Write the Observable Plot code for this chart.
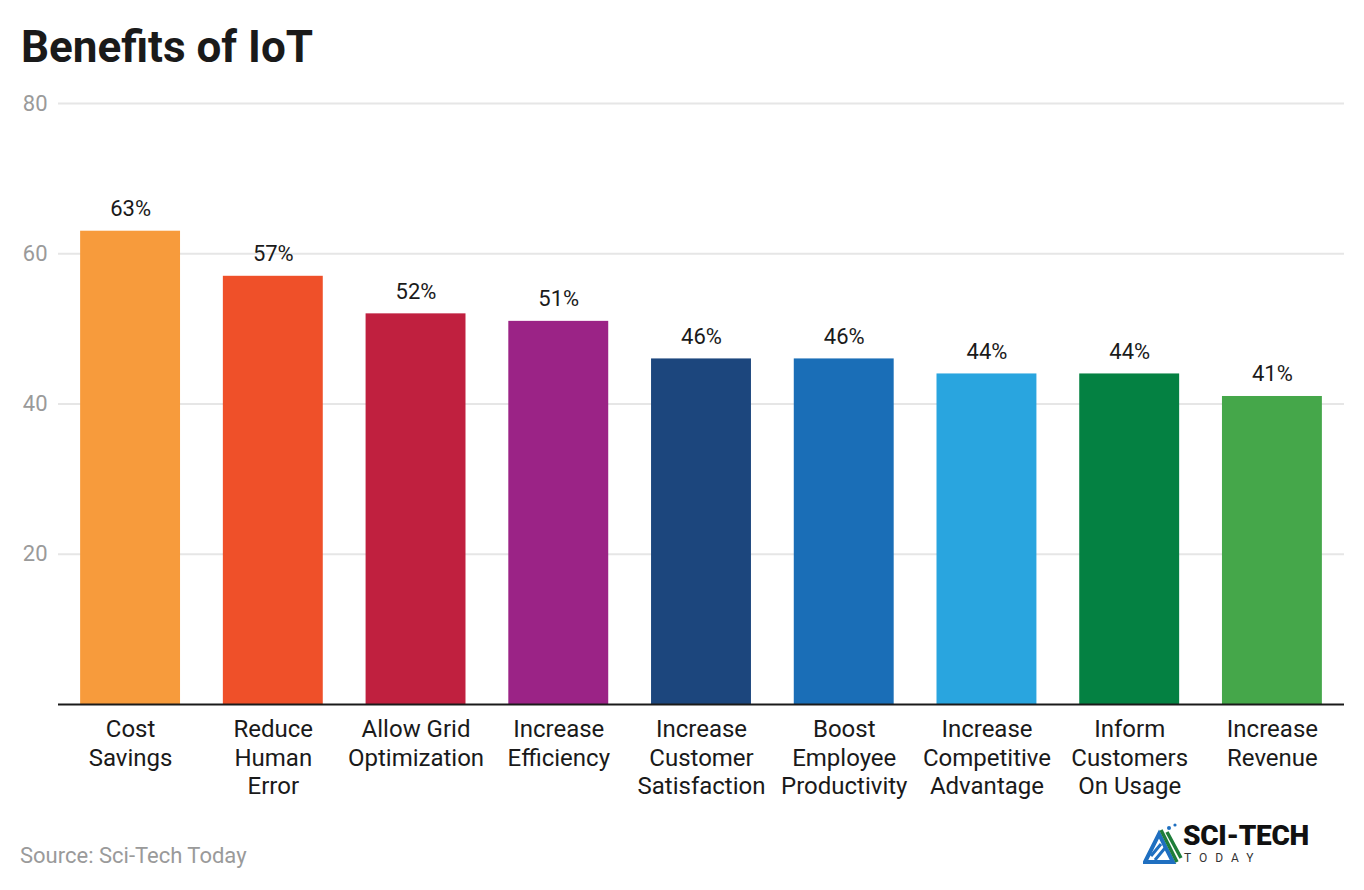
<!DOCTYPE html>
<html>
<head>
<meta charset="utf-8">
<script src="https://cdn.jsdelivr.net/npm/d3@7"></script>
<script src="https://cdn.jsdelivr.net/npm/@observablehq/plot@0.6"></script>
<style>
  html, body { margin: 0; padding: 0; background: #fff; }
  body { font-family: Roboto, "Noto Sans", sans-serif; }
  #wrap { position: relative; width: 1364px; height: 890px; overflow: hidden; }
  #title { position: absolute; left: 21px; top: 25px; font-size: 44px; line-height: 44px; font-weight: 700; color: #1a1a1a; margin: 0; }
  #chart { position: absolute; left: 0; top: 0; }
  #source { position: absolute; left: 20px; top: 844px; font-size: 22px; line-height: 24px; color: #9a9a9a; }
  #logo { position: absolute; left: 1143px; top: 822px; width: 180px; height: 44px; }
  #logo .main { position: absolute; left: 40px; top: 0px; font-size: 28px; line-height: 28px; font-weight: 900; color: #111; letter-spacing: -0.3px; }
  #logo .sub { position: absolute; left: 41px; top: 30px; font-size: 12px; line-height: 12px; color: #333; letter-spacing: 8px; }
</style>
</head>
<body>
<div id="wrap">
  <div id="chart"></div>
  <h1 id="title">Benefits of IoT</h1>
  <div id="source">Source: Sci-Tech Today</div>
  <div id="logo">
    <svg width="40" height="44" style="position:absolute;left:0;top:0">
      <polygon points="2,40 16,12 30,40" fill="none" stroke="#1f6fc0" stroke-width="4"/>
      <path d="M8,34 L18,22 M12,38 L22,26" stroke="#1f6fc0" stroke-width="3"/>
      <path d="M18,8 L34,40 M24,10 L38,36" stroke="#1e7d3a" stroke-width="3.5"/>
      <circle cx="26" cy="6" r="2" fill="#1f6fc0"/>
      <circle cx="32" cy="3" r="1.6" fill="#1f6fc0"/>
    </svg>
    <div class="main">SCI-TECH</div>
    <div class="sub">TODAY</div>
  </div>
</div>
<script>
const categories = [
  "Cost Savings", "Reduce Human Error", "Allow Grid Optimization", "Increase Efficiency",
  "Increase Customer Satisfaction", "Boost Employee Productivity", "Increase Competitive Advantage",
  "Inform Customers On Usage", "Increase Revenue"
];
const tickLabels = [
  "Cost\nSavings", "Reduce\nHuman\nError", "Allow Grid\nOptimization", "Increase\nEfficiency",
  "Increase\nCustomer\nSatisfaction", "Boost\nEmployee\nProductivity", "Increase\nCompetitive\nAdvantage",
  "Inform\nCustomers\nOn Usage", "Increase\nRevenue"
];
const values = [63, 57, 52, 51, 46, 46, 44, 44, 41];
const colors = ["#F79B3C", "#EF5029", "#C0203F", "#9B2386", "#1C467D", "#1A6EB7", "#29A5DF", "#048142", "#45A74A"];
const yTicks = [20, 40, 60, 80];

const data = categories.map((c, i) => ({name: c, value: values[i], label: tickLabels[i], color: colors[i]}));

const chart = Plot.plot({
  width: 1364,
  height: 820,
  marginTop: 103,
  marginBottom: 116,
  marginLeft: 58,
  marginRight: 20,
  style: {fontFamily: "Roboto, sans-serif", background: "transparent"},
  x: {domain: categories, paddingInner: 0.3, paddingOuter: 0.155, round: false, axis: null},
  y: {domain: [0, 80], axis: null},
  marks: [
    Plot.gridY(yTicks, {stroke: "#e6e6e6", strokeOpacity: 1, strokeWidth: 2}),
    Plot.axisY(yTicks, {tickSize: 0, tickPadding: 11, fontSize: 22, fill: "#9a9a9a", label: null}),
    Plot.barY(data, {x: "name", y: "value", fill: "color"}),
    Plot.ruleY([0], {stroke: "#1a1a1a", strokeWidth: 2}),
    Plot.text(data, {x: "name", y: "value", text: d => d.value + "%", lineAnchor: "bottom", dy: -15, fontSize: 22, fill: "#1a1a1a"}),
    Plot.text(data, {x: "name", text: "label", frameAnchor: "bottom", lineAnchor: "top", dy: 13, lineHeight: 1.17, fontSize: 24, fill: "#1a1a1a"})
  ]
});
document.getElementById("chart").appendChild(chart);
</script>
</body>
</html>
